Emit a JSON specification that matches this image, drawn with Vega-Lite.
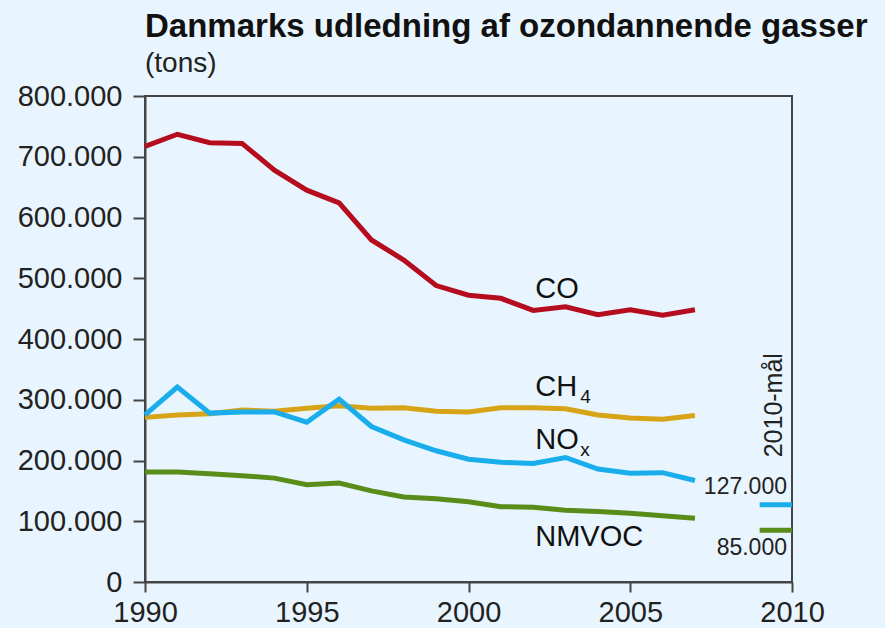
{
  "$schema": "https://vega.github.io/schema/vega-lite/v6.json",
  "width": 647,
  "height": 486,
  "autosize": "none",
  "padding": {"left": 145, "top": 96, "right": 93, "bottom": 46},
  "background": "#e8f5fe",
  "title": {
    "text": "Danmarks udledning af ozondannende gasser",
    "subtitle": "(tons)",
    "anchor": "start",
    "frame": "group",
    "font": "Liberation Sans",
    "fontSize": 33,
    "fontWeight": "bold",
    "color": "#111111",
    "subtitleFont": "Liberation Sans",
    "subtitleFontSize": 28,
    "subtitleColor": "#222222",
    "subtitlePadding": 6,
    "offset": 4
  },
  "config": {
    "view": {"stroke": "#444444", "strokeWidth": 2, "fill": "#e8f5fe"},
    "axis": {
      "labelFont": "Liberation Sans",
      "labelFontSize": 29,
      "labelColor": "#222222",
      "domainColor": "#444444",
      "domainWidth": 2,
      "tickColor": "#444444",
      "tickWidth": 2,
      "grid": false,
      "title": null
    }
  },
  "datasets": {
    "series": [
      {"gas": "CO", "year": 1990, "value": 717000}, {"gas": "CO", "year": 1991, "value": 737000},
      {"gas": "CO", "year": 1992, "value": 723000}, {"gas": "CO", "year": 1993, "value": 722000},
      {"gas": "CO", "year": 1994, "value": 678000}, {"gas": "CO", "year": 1995, "value": 645000},
      {"gas": "CO", "year": 1996, "value": 624000}, {"gas": "CO", "year": 1997, "value": 563000},
      {"gas": "CO", "year": 1998, "value": 530000}, {"gas": "CO", "year": 1999, "value": 488000},
      {"gas": "CO", "year": 2000, "value": 472000}, {"gas": "CO", "year": 2001, "value": 467000},
      {"gas": "CO", "year": 2002, "value": 447000}, {"gas": "CO", "year": 2003, "value": 453000},
      {"gas": "CO", "year": 2004, "value": 440000}, {"gas": "CO", "year": 2005, "value": 448000},
      {"gas": "CO", "year": 2006, "value": 439000}, {"gas": "CO", "year": 2007, "value": 448000},
      {"gas": "CH4", "year": 1990, "value": 271000}, {"gas": "CH4", "year": 1991, "value": 275000},
      {"gas": "CH4", "year": 1992, "value": 277000}, {"gas": "CH4", "year": 1993, "value": 283000},
      {"gas": "CH4", "year": 1994, "value": 281000}, {"gas": "CH4", "year": 1995, "value": 286000},
      {"gas": "CH4", "year": 1996, "value": 290000}, {"gas": "CH4", "year": 1997, "value": 286000},
      {"gas": "CH4", "year": 1998, "value": 287000}, {"gas": "CH4", "year": 1999, "value": 281000},
      {"gas": "CH4", "year": 2000, "value": 280000}, {"gas": "CH4", "year": 2001, "value": 287000},
      {"gas": "CH4", "year": 2002, "value": 287000}, {"gas": "CH4", "year": 2003, "value": 285000},
      {"gas": "CH4", "year": 2004, "value": 275000}, {"gas": "CH4", "year": 2005, "value": 270000},
      {"gas": "CH4", "year": 2006, "value": 268000}, {"gas": "CH4", "year": 2007, "value": 274000},
      {"gas": "NOx", "year": 1990, "value": 275000}, {"gas": "NOx", "year": 1991, "value": 321000},
      {"gas": "NOx", "year": 1992, "value": 278000}, {"gas": "NOx", "year": 1993, "value": 280000},
      {"gas": "NOx", "year": 1994, "value": 280000}, {"gas": "NOx", "year": 1995, "value": 263000},
      {"gas": "NOx", "year": 1996, "value": 301000}, {"gas": "NOx", "year": 1997, "value": 256000},
      {"gas": "NOx", "year": 1998, "value": 234000}, {"gas": "NOx", "year": 1999, "value": 216000},
      {"gas": "NOx", "year": 2000, "value": 202000}, {"gas": "NOx", "year": 2001, "value": 197000},
      {"gas": "NOx", "year": 2002, "value": 195000}, {"gas": "NOx", "year": 2003, "value": 205000},
      {"gas": "NOx", "year": 2004, "value": 186000}, {"gas": "NOx", "year": 2005, "value": 179000},
      {"gas": "NOx", "year": 2006, "value": 180000}, {"gas": "NOx", "year": 2007, "value": 167000},
      {"gas": "NMVOC", "year": 1990, "value": 181000}, {"gas": "NMVOC", "year": 1991, "value": 181000},
      {"gas": "NMVOC", "year": 1992, "value": 178000}, {"gas": "NMVOC", "year": 1993, "value": 175000},
      {"gas": "NMVOC", "year": 1994, "value": 171000}, {"gas": "NMVOC", "year": 1995, "value": 160000},
      {"gas": "NMVOC", "year": 1996, "value": 163000}, {"gas": "NMVOC", "year": 1997, "value": 150000},
      {"gas": "NMVOC", "year": 1998, "value": 140000}, {"gas": "NMVOC", "year": 1999, "value": 137000},
      {"gas": "NMVOC", "year": 2000, "value": 132000}, {"gas": "NMVOC", "year": 2001, "value": 124000},
      {"gas": "NMVOC", "year": 2002, "value": 123000}, {"gas": "NMVOC", "year": 2003, "value": 118000},
      {"gas": "NMVOC", "year": 2004, "value": 116000}, {"gas": "NMVOC", "year": 2005, "value": 113000},
      {"gas": "NMVOC", "year": 2006, "value": 109000}, {"gas": "NMVOC", "year": 2007, "value": 105000}
    ],
    "targets": [
      {"gas": "NOx", "start": 2009, "end": 2010, "value": 127000, "label": "127.000"},
      {"gas": "NMVOC", "start": 2009, "end": 2010, "value": 85000, "label": "85.000"}
    ],
    "names": [
      {"year": 2002, "value": 482000, "label": "CO"},
      {"year": 2002, "value": 321000, "label": "CH"},
      {"year": 2002, "value": 234000, "label": "NO"},
      {"year": 2002, "value": 74000, "label": "NMVOC"}
    ],
    "subs": [
      {"year": 2002, "value": 304000, "label": "4"},
      {"year": 2002, "value": 217000, "label": "x"}
    ],
    "goal": [
      {"year": 2010, "value": 291000, "label": "2010-mål"}
    ]
  },
  "layer": [
    {
      "data": {"name": "series"},
      "mark": {"type": "line", "strokeWidth": 5},
      "encoding": {
        "x": {
          "field": "year", "type": "quantitative",
          "scale": {"domain": [1990, 2010], "nice": false, "zero": false},
          "axis": {"values": [1990, 1995, 2000, 2005, 2010], "format": "d", "tickSize": 10, "labelPadding": 6, "labelFlush": false}
        },
        "y": {
          "field": "value", "type": "quantitative",
          "scale": {"domain": [0, 800000], "nice": false},
          "axis": {"values": [0, 100000, 200000, 300000, 400000, 500000, 600000, 700000, 800000],
                   "labelExpr": "datum.value == 0 ? '0' : format(datum.value / 1000, 'd') + '.000'",
                   "tickSize": 12, "labelPadding": 11, "labelFlush": false}
        },
        "color": {
          "field": "gas", "type": "nominal",
          "scale": {"domain": ["CO", "CH4", "NOx", "NMVOC"], "range": ["#b50d1e", "#d6a416", "#19adec", "#5a8c1a"]},
          "legend": null
        },
        "detail": {"field": "gas"}
      }
    },
    {
      "data": {"name": "targets"},
      "mark": {"type": "rule", "strokeWidth": 5},
      "encoding": {
        "x": {"field": "start", "type": "quantitative"},
        "x2": {"field": "end"},
        "y": {"field": "value", "type": "quantitative"},
        "color": {"field": "gas", "type": "nominal"}
      }
    },
    {
      "data": {"name": "targets"},
      "transform": [{"filter": "datum.gas == 'NOx'"}],
      "mark": {"type": "text", "font": "Liberation Sans", "fontSize": 23, "color": "#222222", "align": "right", "baseline": "middle", "dx": -5, "dy": -18},
      "encoding": {
        "x": {"field": "end", "type": "quantitative"},
        "y": {"field": "value", "type": "quantitative"},
        "text": {"field": "label"}
      }
    },
    {
      "data": {"name": "targets"},
      "transform": [{"filter": "datum.gas == 'NMVOC'"}],
      "mark": {"type": "text", "font": "Liberation Sans", "fontSize": 23, "color": "#222222", "align": "right", "baseline": "middle", "dx": -5, "dy": 18},
      "encoding": {
        "x": {"field": "end", "type": "quantitative"},
        "y": {"field": "value", "type": "quantitative"},
        "text": {"field": "label"}
      }
    },
    {
      "data": {"name": "names"},
      "mark": {"type": "text", "font": "Liberation Sans", "fontSize": 29, "color": "#111111", "align": "left", "baseline": "middle", "dx": 2},
      "encoding": {
        "x": {"field": "year", "type": "quantitative"},
        "y": {"field": "value", "type": "quantitative"},
        "text": {"field": "label"}
      }
    },
    {
      "data": {"name": "subs"},
      "mark": {"type": "text", "font": "Liberation Sans", "fontSize": 19, "color": "#111111", "align": "left", "baseline": "middle", "dx": 47},
      "encoding": {
        "x": {"field": "year", "type": "quantitative"},
        "y": {"field": "value", "type": "quantitative"},
        "text": {"field": "label"}
      }
    },
    {
      "data": {"name": "goal"},
      "mark": {"type": "text", "font": "Liberation Sans", "fontSize": 25, "color": "#222222", "align": "center", "baseline": "alphabetic", "angle": 270, "dy": -10},
      "encoding": {
        "x": {"field": "year", "type": "quantitative"},
        "y": {"field": "value", "type": "quantitative"},
        "text": {"field": "label"}
      }
    }
  ]
}
